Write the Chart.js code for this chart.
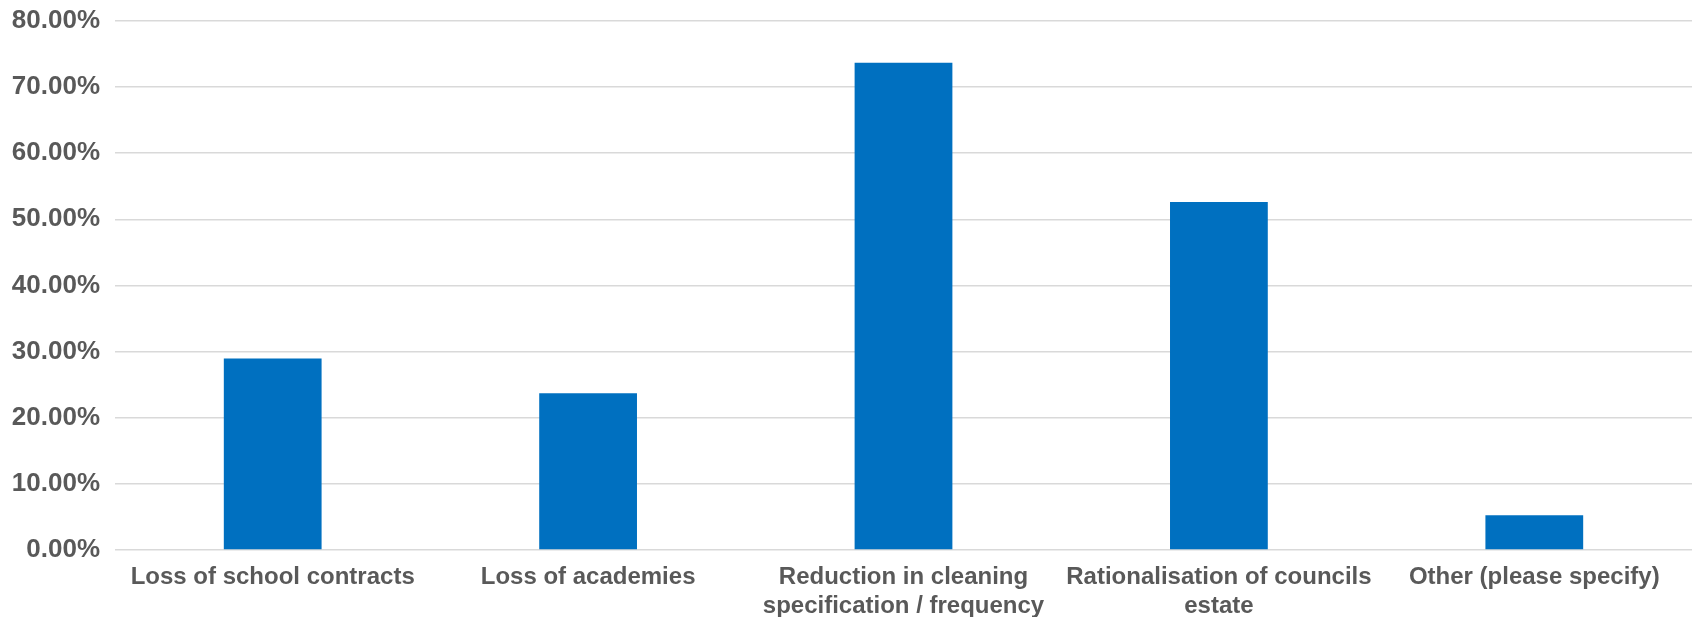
<!DOCTYPE html>
<html>
<head>
<meta charset="utf-8">
<script src="https://cdn.jsdelivr.net/npm/chart.js@4.4.1/dist/chart.umd.min.js"></script>
<style>
  html, body { margin: 0; padding: 0; background: #fff; }
  #wrap { width: 1692px; height: 617px; position: relative; }
</style>
</head>
<body>
<div id="wrap"><canvas id="reasons"></canvas></div>
<script>
'use strict';
// categories (multi-line labels as in the source)
var categories = [
    ['Loss of school contracts'],
    ['Loss of academies'],
    ['Reduction in cleaning', 'specification / frequency'],
    ['Rationalisation of councils', 'estate'],
    ['Other (please specify)']
];
// percentage of respondents
var percentages = [28.95, 23.68, 73.68, 52.63, 5.26];
var yTicks = [0, 10, 20, 30, 40, 50, 60, 70, 80];

var ctx = document.getElementById('reasons');
var reasons_chart = new Chart(ctx, {
    type: 'bar',
    data: {
        labels: categories,
        datasets: [
            {
                label: 'Reasons',
                data: percentages,
                backgroundColor: '#0070C0',
                borderWidth: 0,
                categoryPercentage: 1.0,
                barPercentage: 0.31
            }
        ]
    },
    options: {
        responsive: true,
        maintainAspectRatio: false,
        animation: false,
        layout: { padding: 0 },
        plugins: {
            legend: { display: false },
            tooltip: { enabled: false }
        },
        scales: {
            x: {
                afterFit: function (scale) { scale.height = 67; },
                grid: { display: false },
                border: { display: false },
                ticks: {
                    color: '#595959',
                    font: { family: 'Liberation Sans', size: 24, weight: 'bold', lineHeight: 1.2 },
                    padding: 5,
                    maxRotation: 0,
                    autoSkip: false
                }
            },
            y: {
                min: 0,
                max: 80,
                afterFit: function (scale) { scale.width = 115; },
                afterBuildTicks: function (scale) {
                    scale.ticks = yTicks.map(function (v) { return { value: v }; });
                },
                grid: { color: '#D9D9D9', lineWidth: 1.5, drawTicks: false },
                border: { display: false },
                ticks: {
                    color: '#595959',
                    font: { family: 'Liberation Sans', size: 26, weight: 'bold', lineHeight: 0.45 },
                    padding: 15,
                    callback: function (v) { return v.toFixed(2) + '%'; }
                }
            }
        }
    }
});
</script>
</body>
</html>
